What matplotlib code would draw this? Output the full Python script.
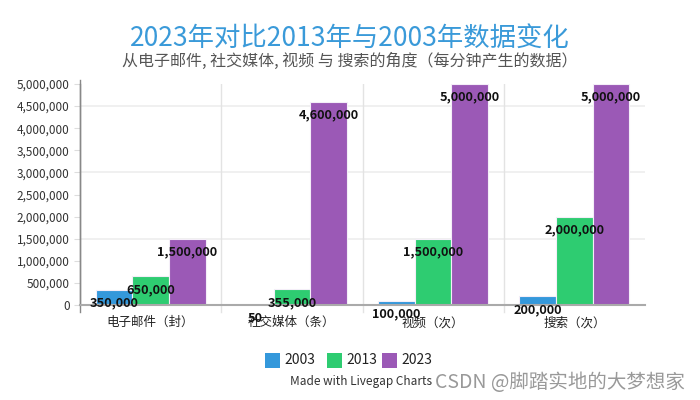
import matplotlib
matplotlib.use("Agg")
import matplotlib.pyplot as plt
import numpy as np
from matplotlib.ticker import FuncFormatter, MultipleLocator
from matplotlib.patches import Rectangle

plt.rcParams['font.family'] = ['Noto Sans CJK SC', 'DejaVu Sans']

categories = ["电子邮件（封）", "社交媒体（条）", "视频（次）", "搜索（次）"]
years = ["2003", "2013", "2023"]
v2003 = [350000, 50, 100000, 200000]
v2013 = [650000, 355000, 1500000, 2000000]
v2023 = [1500000, 4600000, 5000000, 5000000]
colors = ["#3498db", "#2ecc71", "#9b59b6"]

fig = plt.figure(figsize=(7, 4), dpi=100)
ax = fig.add_axes([80/700, 1-305/400, 565/700, 221/400])

x = np.arange(len(categories))
w = 0.26
series = [v2003, v2013, v2023]
for i, (vals, c) in enumerate(zip(series, colors)):
    xs = x + (i-1)*w
    ax.bar(xs, vals, width=w, color=c, edgecolor='#f4eef8', linewidth=0.8, zorder=3)
    for xi, v in zip(xs, vals):
        ax.annotate(f"{v:,}", (xi, v), xytext=(0, -9.5), textcoords='offset points',
                    ha='center', va='center', fontsize=9.2, color='#111111',
                    fontweight='bold', zorder=5, annotation_clip=False)

ax.set_xlim(-0.5, 3.5)
ax.set_ylim(0, 5000000)
ax.yaxis.set_major_locator(MultipleLocator(500000))
ax.yaxis.set_major_formatter(FuncFormatter(lambda v, p: f"{int(v):,}"))
ax.tick_params(axis='y', labelsize=8.5, labelcolor='#333333', length=4, width=0.8,
               color='#dddddd')
ax.set_xticks(x)
ax.set_xticklabels(categories, fontsize=9, color='#222222')
ax.tick_params(axis='x', length=0, pad=8)

for yv in [1500000, 3000000, 4500000]:
    ax.axhline(yv, color='#eeeeee', linewidth=1.2, zorder=1)
for xv in [0.5, 1.5, 2.5]:
    ax.plot([xv, xv], [0, 1.0], transform=ax.get_xaxis_transform(), color='#e3e3e3',
            linewidth=1, zorder=1)
    ax.plot([xv, xv], [-0.03, 0], transform=ax.get_xaxis_transform(), color='#e3e3e3',
            linewidth=1, zorder=1, clip_on=False)

for s in ['top', 'right']:
    ax.spines[s].set_visible(False)
ax.spines['left'].set_color('#888888')
ax.spines['left'].set_linewidth(1)
ax.spines['left'].set_bounds(0, 5000000)
ax.plot([-0.5, -0.5], [-0.03, 1.02], transform=ax.get_xaxis_transform(), color='#888888',
        linewidth=1, clip_on=False)
ax.spines['bottom'].set_color('#aaaaaa')
ax.spines['bottom'].set_linewidth(1.5)
ax.spines['bottom'].set_zorder(4)

fig.text(0.5, 1-38/400, "2023年对比2013年与2003年数据变化", ha='center', va='center',
         fontsize=19, color='#3a9ad9')
fig.text(0.5, 1-61/400, "从电子邮件, 社交媒体, 视频 与 搜索的角度（每分钟产生的数据）", ha='center',
         va='center', fontsize=11.5, color='#555555')

# legend
lx = [265, 327, 382]
for px, yr, c in zip(lx, years, colors):
    fig.patches.append(Rectangle((px/700, 1-368/400), 15/700, 15/400, transform=fig.transFigure,
                                 facecolor=c, edgecolor='none'))
    fig.text((px+19)/700, 1-360/400, yr, ha='left', va='center', fontsize=10, color='#222222')

fig.text(290/700, 1-382/400, "Made with Livegap Charts", ha='left', va='center',
         fontsize=8.5, color='#333333')
fig.text(435/700, 1-382/400, "CSDN @脚踏实地的大梦想家", ha='left', va='center',
         fontsize=14, color='#999999')

fig.savefig("out.png", dpi=100, facecolor='white')
